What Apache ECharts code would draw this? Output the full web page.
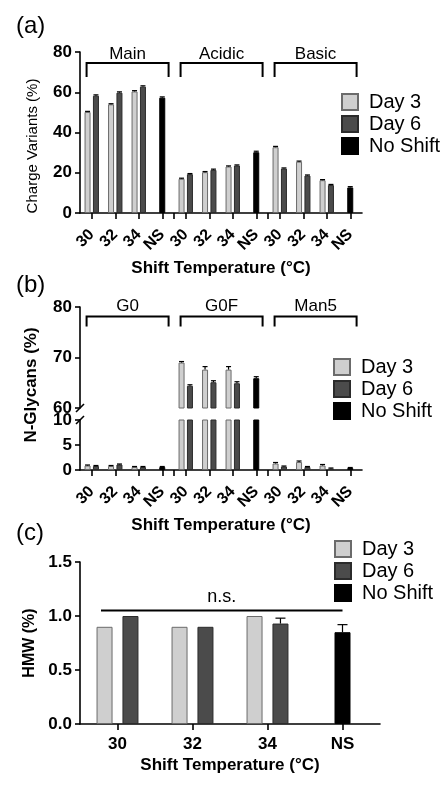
<!DOCTYPE html>
<html lang="en">
<head>
<meta charset="UTF-8">
<title>Charge variants / N-glycans / HMW</title>
<script src="https://cdn.jsdelivr.net/npm/echarts@6/dist/echarts.min.js"></script>
<style>
    html, body { margin: 0; padding: 0; background: #fff; }
    #chart { width: 448px; height: 792px; }
</style>
</head>
<body>
<div id="chart"></div>
<script>
// ---------- data ----------
const temps = ['30', '32', '34', 'NS'];
const chargeGroups = ['Main', 'Acidic', 'Basic'];
const glycanGroups = ['G0', 'G0F', 'Man5'];
const seriesNames = ['Day 3', 'Day 6', 'No Shift'];

// (a) charge variants (%)
const chargeDay3 = [50.2, 54.0, 60.4, null, 17.0, 20.3, 23.1, null, 32.7, 25.5, 16.3, null];
const chargeDay6 = [58.3, 59.8, 62.8, null, 19.3, 21.4, 23.6, null, 22.1, 18.6, 13.9, null];
const chargeNoShift = [null, null, null, 57.3, null, null, null, 30.2, null, null, null, 12.7];
const chargeDay3Err = [0.3, 0.3, 0.4, null, 0.3, 0.3, 0.3, null, 0.4, 0.3, 0.3, null];
const chargeDay6Err = [0.4, 0.4, 0.4, null, 0.3, 0.4, 0.3, null, 0.3, 0.3, 0.3, null];
const chargeNoShiftErr = [null, null, null, 0.4, null, null, null, 0.5, null, null, null, 0.4];

// (b) N-glycans (%)
const glycanDay3 = [0.9, 0.8, 0.6, null, 69.0, 67.6, 67.6, null, 1.3, 1.6, 0.9, null];
const glycanDay6 = [0.8, 1.1, 0.6, null, 64.4, 65.1, 64.9, null, 0.7, 0.6, 0.3, null];
const glycanNoShift = [null, null, null, 0.6, null, null, null, 65.9, null, null, null, 0.4];
const glycanDay3Err = [0.1, 0.1, 0.1, null, 0.2, 0.6, 0.6, null, 0.2, 0.2, 0.2, null];
const glycanDay6Err = [0.1, 0.1, 0.1, null, 0.2, 0.3, 0.3, null, 0.1, 0.1, 0.1, null];
const glycanNoShiftErr = [null, null, null, 0.1, null, null, null, 0.3, null, null, null, 0.1];

// (c) HMW (%)
const hmwDay3 = [0.9, 0.9, 1.0, null];
const hmwDay6 = [1.0, 0.9, 0.93, null];
const hmwNoShift = [null, null, null, 0.85];
const hmwDay6Err = [null, null, 0.05, null];
const hmwNoShiftErr = [null, null, null, 0.07];
const nsLevel = 1.05;

// ---------- styles ----------
const FONT = 'Liberation Sans, Arial, Helvetica, sans-serif';
const fills = { 'Day 3': '#cfcfcf', 'Day 6': '#4b4b4b', 'No Shift': '#000000' };
const borders = { 'Day 3': '#6b6b6b', 'Day 6': '#2b2b2b', 'No Shift': '#000000' };

const chargeCats = chargeGroups.flatMap(g => temps.map(t => g + ' ' + t));
const glycanCats = glycanGroups.flatMap(g => temps.map(t => g + ' ' + t));
const sepSlots = Array.from({ length: chargeCats.length + 1 }, (_, i) => 'b' + i);

const gridA = { left: 80, top: 52, width: 282, height: 161 };
const gridBTop = { left: 80, top: 307, width: 282, height: 101 };
const gridBBot = { left: 80, top: 420, width: 282, height: 50 };
const gridC = { left: 80, top: 562, width: 300, height: 162 };

const axisLineStyle = { show: true, lineStyle: { color: '#000', width: 1.6 } };
const tickStyle = { show: true, length: 6, lineStyle: { color: '#000', width: 1.6 } };

function hiddenX(gridIndex, data) {
    return {
        type: 'category', gridIndex, data, position: 'bottom',
        axisLine: { show: false }, axisTick: { show: false }, axisLabel: { show: false },
        splitLine: { show: false }
    };
}

function sepX(gridIndex) {
    // boundary ticks between the three groups
    return {
        type: 'category', gridIndex, data: sepSlots, position: 'bottom', boundaryGap: false,
        axisLine: { show: false }, axisLabel: { show: false }, splitLine: { show: false },
        axisTick: Object.assign({}, tickStyle, { interval: (i) => i === 4 || i === 8 })
    };
}

function groupedX(gridIndex, data) {
    return {
        type: 'category', gridIndex, data, position: 'bottom',
        axisLine: axisLineStyle,
        axisTick: Object.assign({}, tickStyle, { alignWithLabel: true }),
        axisLabel: {
            interval: 0, rotate: 45, margin: 19,
            formatter: v => v.split(' ').pop(),
            fontFamily: FONT, fontSize: 16, fontWeight: 'bold', color: '#000'
        },
        splitLine: { show: false },
        name: 'Shift Temperature (°C)',
        nameLocation: 'middle', nameGap: 47,
        nameTextStyle: { fontFamily: FONT, fontSize: 17, fontWeight: 'bold', color: '#000' }
    };
}

function valueY(gridIndex, min, max, interval, name, nameStyle) {
    return {
        type: 'value', gridIndex, min, max, interval,
        axisLine: axisLineStyle,
        axisTick: { show: true, length: 5, lineStyle: { color: '#000', width: 1.6 } },
        splitLine: { show: false },
        axisLabel: {
            margin: 8, fontFamily: FONT, fontSize: 17, fontWeight: 'bold', color: '#000',
            formatter: interval < 1 ? (v => v.toFixed(1)) : (v => String(v))
        },
        name: name || '', nameLocation: 'middle', nameGap: 40,
        nameTextStyle: Object.assign({ fontFamily: FONT, color: '#000' }, nameStyle || {})
    };
}

function bar(name, xAxisIndex, yAxisIndex, data, width, gap) {
    return {
        name, type: 'bar', xAxisIndex, yAxisIndex, data, barWidth: width, barGap: gap,
        itemStyle: { color: fills[name], borderColor: borders[name], borderWidth: 1 },
        z: 2
    };
}

function errorBars(xAxisIndex, yAxisIndex, values, errs, offset, capW, keep) {
    const data = [];
    values.forEach((v, i) => {
        if (v != null && errs[i] != null && keep(v)) data.push([i, v, errs[i]]);
    });
    return {
        type: 'custom', xAxisIndex, yAxisIndex, data, silent: true, z: 3,
        encode: { x: 0, y: 1 },
        renderItem: (params, api) => {
            const base = api.coord([api.value(0), api.value(1)]);
            const top = api.coord([api.value(0), api.value(1) + api.value(2)]);
            const x = base[0] + offset;
            const st = { stroke: '#000', lineWidth: 1.2 };
            return {
                type: 'group', children: [
                    { type: 'line', shape: { x1: x, y1: base[1], x2: x, y2: top[1] }, style: st },
                    { type: 'line', shape: { x1: x - capW / 2, y1: top[1], x2: x + capW / 2, y2: top[1] }, style: st }
                ]
            };
        }
    };
}

function brackets(labels, xAxisIndex, yAxisIndex, yVal, hook, textGap) {
    return {
        type: 'custom', xAxisIndex, yAxisIndex, silent: true, z: 4,
        data: labels.map((g, k) => [k * 4, k * 4 + 3, yVal]),
        encode: { x: [0, 1], y: 2 },
        renderItem: (params, api) => {
            const band = api.size([1, 0])[0];
            const a = api.coord([api.value(0), api.value(2)]);
            const b = api.coord([api.value(1), api.value(2)]);
            const x0 = a[0] - band * 0.22, x1 = b[0] + band * 0.27, y = a[1];
            return {
                type: 'group', children: [
                    {
                        type: 'polyline',
                        shape: { points: [[x0, y + hook], [x0, y], [x1, y], [x1, y + hook]] },
                        style: { stroke: '#000', lineWidth: 2, fill: null }
                    },
                    {
                        type: 'text',
                        style: {
                            text: labels[params.dataIndex], x: (x0 + x1) / 2, y: y - textGap,
                            align: 'center', verticalAlign: 'middle',
                            fontFamily: FONT, fontSize: 17, fill: '#000'
                        }
                    }
                ]
            };
        }
    };
}

function legendAt(left, top) {
    return {
        data: seriesNames, orient: 'vertical', left, top, padding: 0,
        icon: 'rect', itemWidth: 16, itemHeight: 16, itemGap: 2,
        selectedMode: false,
        textStyle: { fontFamily: FONT, fontSize: 20, color: '#000', lineHeight: 20, padding: [0, 0, 0, 6] }
    };
}

const chart = echarts.init(document.getElementById('chart'));

const bw = 6, bg = '40%';
const off = bw * 1.4 / 2;
const cw = 16, cg = '62%';
const coff = cw * 1.62 / 2;

chart.setOption({
    animation: false,
    backgroundColor: '#fff',
    title: [
        { text: '(a)', left: 16, top: 14 },
        { text: '(b)', left: 16, top: 273 },
        { text: '(c)', left: 16, top: 521 }
    ].map(t => Object.assign(t, { padding: 0, textStyle: { fontFamily: FONT, fontSize: 24, fontWeight: 'normal', color: '#000' } })),
    legend: [legendAt(341, 92), legendAt(333, 357), legendAt(334, 539)],
    grid: [gridA, gridBTop, gridBBot, gridC].map(g => Object.assign({ outerBoundsMode: 'none' }, g)),
    xAxis: [
        groupedX(0, chargeCats),                // 0
        hiddenX(0, chargeCats),                 // 1  no-shift bars (a)
        sepX(0),                                // 2
        hiddenX(1, glycanCats),                 // 3  (b) top
        hiddenX(1, glycanCats),                 // 4
        groupedX(2, glycanCats),                // 5  (b) bottom
        hiddenX(2, glycanCats),                 // 6
        sepX(2),                                // 7
        {                                       // 8  (c)
            type: 'category', gridIndex: 3, data: temps, position: 'bottom',
            axisLine: axisLineStyle,
            axisTick: Object.assign({}, tickStyle, { alignWithLabel: true }),
            axisLabel: { interval: 0, margin: 12, fontFamily: FONT, fontSize: 17, fontWeight: 'bold', color: '#000' },
            splitLine: { show: false },
            name: 'Shift Temperature (°C)', nameLocation: 'middle', nameGap: 33,
            nameTextStyle: { fontFamily: FONT, fontSize: 17, fontWeight: 'bold', color: '#000' }
        },
        hiddenX(3, temps)                       // 9
    ],
    yAxis: [
        valueY(0, 0, 80, 20, 'Charge Variants (%)', { fontSize: 15, padding: [0, 27, 0, 0] }),
        valueY(1, 60, 80, 10, 'N-Glycans (%)', { fontSize: 17, fontWeight: 'bold', padding: [0, 55, 0, 0] }),
        valueY(2, 0, 10, 5),
        valueY(3, 0, 1.5, 0.5, 'HMW (%)', { fontSize: 16, fontWeight: 'bold' })
    ],
    series: [
        // (a)
        bar('Day 3', 0, 0, chargeDay3, bw, bg),
        bar('Day 6', 0, 0, chargeDay6, bw, bg),
        bar('No Shift', 1, 0, chargeNoShift, bw, bg),
        errorBars(0, 0, chargeDay3, chargeDay3Err, -off, 5, () => true),
        errorBars(0, 0, chargeDay6, chargeDay6Err, off, 5, () => true),
        errorBars(1, 0, chargeNoShift, chargeNoShiftErr, 0, 5, () => true),
        brackets(chargeGroups, 0, 0, 74.5, 14, 9),

        // (b) upper part of the broken axis
        bar('Day 3', 3, 1, glycanDay3.map(v => v != null && v >= 60 ? v : null), bw, bg),
        bar('Day 6', 3, 1, glycanDay6.map(v => v != null && v >= 60 ? v : null), bw, bg),
        bar('No Shift', 4, 1, glycanNoShift.map(v => v != null && v >= 60 ? v : null), bw, bg),
        errorBars(3, 1, glycanDay3, glycanDay3Err, -off, 5, v => v >= 60),
        errorBars(3, 1, glycanDay6, glycanDay6Err, off, 5, v => v >= 60),
        errorBars(4, 1, glycanNoShift, glycanNoShiftErr, 0, 5, v => v >= 60),
        brackets(glycanGroups, 3, 1, 78.1, 10, 10),

        // (b) lower part
        bar('Day 3', 5, 2, glycanDay3, bw, bg),
        bar('Day 6', 5, 2, glycanDay6, bw, bg),
        bar('No Shift', 6, 2, glycanNoShift, bw, bg),
        errorBars(5, 2, glycanDay3, glycanDay3Err, -off, 5, v => v < 10),
        errorBars(5, 2, glycanDay6, glycanDay6Err, off, 5, v => v < 10),
        errorBars(6, 2, glycanNoShift, glycanNoShiftErr, 0, 5, v => v < 10),

        // (c)
        bar('Day 3', 8, 3, hmwDay3, cw, cg),
        bar('Day 6', 8, 3, hmwDay6, cw, cg),
        bar('No Shift', 9, 3, hmwNoShift, cw, cg),
        errorBars(8, 3, hmwDay6, hmwDay6Err, coff, 10, () => true),
        errorBars(9, 3, hmwNoShift, hmwNoShiftErr, 0, 10, () => true),
        {
            type: 'custom', xAxisIndex: 8, yAxisIndex: 3, silent: true, z: 4,
            data: [[0, temps.length - 1, nsLevel]],
            encode: { x: [0, 1], y: 2 },
            renderItem: (params, api) => {
                const band = api.size([1, 0])[0];
                const a = api.coord([api.value(0), api.value(2)]);
                const b = api.coord([api.value(1), api.value(2)]);
                const x0 = a[0] - band * 0.22, x1 = b[0];
                return {
                    type: 'group', children: [
                        { type: 'line', shape: { x1: x0, y1: a[1], x2: x1, y2: a[1] }, style: { stroke: '#000', lineWidth: 2 } },
                        {
                            type: 'text',
                            style: {
                                text: 'n.s.', x: (x0 + x1) / 2, y: a[1] - 14, align: 'center', verticalAlign: 'middle',
                                fontFamily: FONT, fontSize: 18, fill: '#000'
                            }
                        }
                    ]
                };
            }
        }
    ]
});

// axis-break marks on the N-glycans y axis
const yBreakTop = chart.convertToPixel({ yAxisIndex: 1 }, 60);
const yBreakBot = chart.convertToPixel({ yAxisIndex: 2 }, 10);
const xBreak = gridBTop.left;
chart.setOption({
    graphic: [yBreakTop, yBreakBot].map(y => ({
        type: 'line', silent: true, z: 10,
        shape: { x1: xBreak - 4, y1: y + 4, x2: xBreak + 4, y2: y - 4 },
        style: { stroke: '#000', lineWidth: 1.6 }
    }))
});
</script>
</body>
</html>
